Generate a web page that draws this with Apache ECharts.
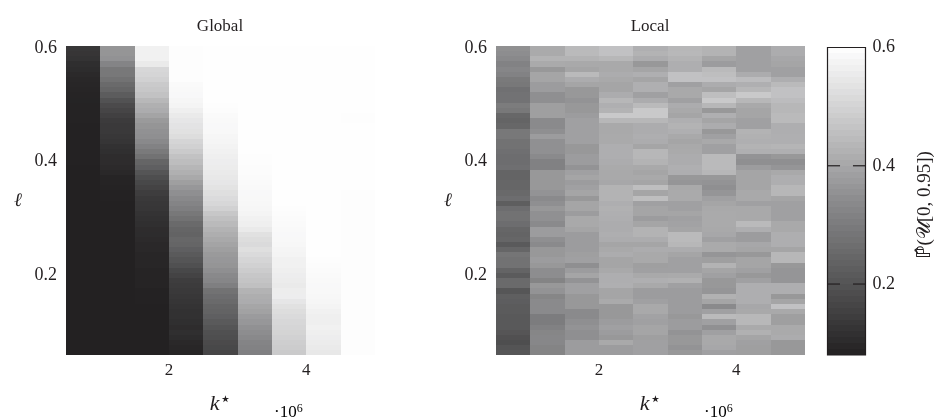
<!DOCTYPE html>
<html><head><meta charset="utf-8">
<script src="https://cdn.jsdelivr.net/npm/echarts@6/dist/echarts.min.js"></script>
<style>html,body{margin:0;padding:0;background:#fff}#c{width:935px;height:420px}</style>
</head><body><div id="c"></div>
<script>
const kColumns=[0.75,1.25,1.75,2.25,2.75,3.25,3.75,4.25,4.75];
const ellTop=0.604, ellBottom=0.058, rowCount=60;
const xTickLabels=[2,4];
const yTickLabels=[0.2,0.4,0.6];
const cbTickLabels=[0.2,0.4,0.6];
const cbTicks=[0.2,0.4];
// values per column, rows listed from the top (ell=0.6) downward
const global1=[.132,.128,.122,.110,.105,.100,.095,.092,.090,.088,.086,.085,.085,.084,.084,.083,.083,.083,.082,.082,.082,.082,.082,.081,.081,.081,.081,.081,.081,.081,.081,.081,.081,.081,.081,.081,.081,.081,.081,.081,.080,.080,.080,.080,.080,.080,.080,.080,.080,.080,.080,.080,.080,.080,.080,.080,.080,.080,.080,.080];
const global2=[.361,.361,.355,.323,.291,.291,.275,.256,.242,.221,.196,.178,.166,.154,.142,.137,.137,.132,.127,.117,.112,.107,.107,.102,.097,.087,.087,.085,.083,.082,.081,.081,.081,.081,.081,.080,.080,.080,.080,.080,.080,.080,.080,.080,.080,.080,.080,.080,.080,.080,.080,.080,.080,.080,.080,.080,.080,.080,.080,.080];
const global3=[.568,.568,.568,.551,.509,.505,.496,.48,.473,.462,.439,.421,.413,.394,.372,.361,.354,.349,.336,.317,.296,.275,.242,.229,.203,.186,.171,.161,.146,.137,.132,.129,.122,.117,.112,.107,.105,.102,.097,.097,.092,.092,.092,.087,.087,.087,.087,.082,.082,.082,.08,.08,.08,.08,.08,.08,.08,.08,.08,.08];
const global4=[.596,.596,.596,.596,.596,.596,.596,.589,.587,.585,.579,.575,.564,.551,.544,.537,.531,.522,.505,.496,.48,.462,.45,.435,.421,.406,.383,.367,.349,.336,.323,.309,.291,.275,.256,.242,.237,.248,.242,.229,.216,.203,.19,.171,.161,.146,.142,.137,.132,.127,.122,.117,.117,.112,.107,.112,.105,.097,.092,.087];
const global5=[.598,.598,.598,.598,.598,.598,.598,.598,.598,.598,.598,.596,.594,.589,.587,.585,.583,.579,.577,.573,.568,.564,.56,.556,.551,.547,.544,.535,.526,.518,.509,.496,.473,.457,.444,.428,.417,.406,.394,.383,.372,.367,.361,.349,.336,.328,.309,.275,.264,.256,.242,.237,.229,.216,.203,.19,.186,.178,.171,.166];
const global6=[.598,.598,.598,.598,.598,.598,.598,.598,.598,.598,.598,.598,.598,.598,.598,.598,.598,.598,.598,.598,.598,.596,.596,.594,.594,.591,.589,.587,.585,.583,.581,.579,.575,.568,.564,.551,.531,.522,.516,.526,.516,.505,.496,.484,.473,.466,.457,.428,.417,.413,.399,.39,.376,.367,.354,.345,.336,.323,.317,.309];
const global7=[.598,.598,.598,.598,.598,.598,.598,.598,.598,.598,.598,.598,.598,.598,.598,.598,.598,.598,.598,.598,.598,.598,.598,.598,.598,.598,.598,.598,.598,.598,.598,.596,.594,.591,.589,.587,.585,.583,.581,.577,.575,.568,.568,.564,.56,.556,.551,.558,.56,.544,.531,.522,.516,.509,.505,.501,.496,.489,.484,.48];
const global8=[.598,.598,.598,.598,.598,.598,.598,.598,.598,.598,.598,.598,.598,.598,.598,.598,.598,.598,.598,.598,.598,.598,.598,.598,.598,.598,.598,.598,.598,.598,.598,.598,.598,.598,.598,.598,.598,.598,.598,.598,.598,.596,.594,.591,.589,.587,.585,.583,.581,.579,.575,.568,.564,.564,.568,.564,.56,.556,.551,.547];
const global9=[.597,.597,.597,.597,.597,.597,.597,.597,.597,.597,.597,.597,.597,.596,.596,.597,.597,.597,.597,.597,.597,.597,.597,.597,.597,.597,.597,.597,.596,.596,.596,.596,.595,.595,.596,.596,.596,.595,.595,.596,.596,.596,.596,.596,.595,.595,.596,.596,.596,.596,.595,.595,.595,.595,.596,.596,.596,.595,.595,.595];
const local1=[.350,.345,.336,.317,.328,.317,.296,.291,.272,.277,.277,.301,.291,.248,.240,.248,.291,.291,.275,.275,.269,.264,.264,.269,.240,.240,.246,.246,.253,.264,.226,.264,.275,.275,.264,.246,.240,.246,.214,.246,.283,.275,.275,.240,.218,.256,.256,.206,.228,.224,.218,.218,.212,.212,.212,.204,.192,.186,.200,.206];
const local2=[.408,.408,.428,.408,.368,.397,.397,.377,.377,.348,.348,.383,.383,.383,.337,.337,.348,.377,.352,.352,.352,.337,.314,.314,.368,.368,.368,.368,.358,.337,.348,.368,.352,.352,.337,.377,.377,.348,.337,.368,.368,.377,.368,.345,.345,.321,.368,.358,.326,.337,.337,.337,.303,.303,.314,.326,.330,.330,.321,.321];
const local3=[.444,.444,.428,.405,.397,.444,.413,.397,.368,.368,.358,.368,.368,.377,.386,.386,.386,.386,.386,.368,.368,.377,.377,.358,.386,.397,.377,.386,.397,.368,.397,.397,.377,.405,.405,.397,.377,.377,.377,.377,.383,.386,.348,.377,.397,.358,.386,.386,.368,.368,.368,.337,.337,.348,.358,.348,.348,.377,.377,.377];
const local4=[.460,.460,.436,.405,.405,.413,.405,.397,.397,.413,.436,.420,.428,.476,.436,.405,.405,.408,.408,.418,.418,.418,.413,.408,.405,.405,.402,.428,.428,.428,.418,.424,.420,.418,.413,.413,.418,.413,.397,.405,.413,.397,.397,.405,.418,.418,.420,.397,.397,.408,.368,.368,.368,.377,.386,.377,.368,.405,.377,.377];
const local5=[.420,.428,.413,.368,.397,.420,.397,.420,.420,.386,.413,.444,.476,.476,.436,.413,.413,.418,.413,.397,.436,.436,.428,.405,.397,.405,.397,.452,.397,.452,.386,.397,.397,.377,.397,.428,.428,.413,.397,.413,.405,.405,.383,.386,.405,.420,.405,.377,.377,.386,.405,.405,.391,.386,.397,.397,.383,.386,.386,.386];
const local6=[.436,.439,.428,.418,.418,.460,.460,.386,.405,.405,.386,.413,.405,.397,.420,.428,.420,.405,.397,.405,.408,.413,.413,.420,.418,.368,.363,.405,.408,.408,.386,.386,.397,.386,.391,.397,.444,.444,.436,.413,.397,.386,.386,.386,.408,.424,.386,.377,.377,.377,.377,.377,.368,.377,.377,.358,.368,.368,.358,.368];
const local7=[.428,.428,.397,.377,.444,.452,.460,.413,.397,.452,.476,.436,.368,.420,.397,.413,.368,.386,.405,.386,.386,.444,.444,.444,.436,.368,.358,.348,.363,.386,.397,.405,.408,.408,.408,.405,.402,.386,.408,.408,.363,.383,.428,.397,.386,.368,.368,.363,.424,.397,.337,.386,.444,.386,.352,.386,.405,.405,.402,.386];
const local8=[.386,.386,.386,.386,.386,.413,.449,.420,.436,.476,.436,.405,.397,.397,.386,.386,.428,.424,.420,.428,.420,.358,.348,.377,.397,.397,.397,.397,.405,.405,.386,.405,.405,.405,.444,.418,.377,.377,.402,.397,.368,.397,.397,.386,.368,.386,.418,.418,.418,.418,.402,.405,.439,.439,.408,.424,.397,.386,.383,.383];
const local9=[.413,.413,.402,.397,.386,.386,.418,.444,.460,.460,.449,.436,.436,.444,.444,.418,.418,.420,.420,.433,.420,.368,.348,.363,.405,.418,.418,.436,.436,.397,.386,.386,.386,.386,.405,.405,.418,.418,.418,.397,.436,.436,.368,.363,.363,.363,.418,.418,.368,.397,.460,.405,.383,.383,.408,.408,.413,.368,.368,.368];
const globalColumns=[global1,global2,global3,global4,global5,global6,global7,global8,global9];
const localColumns=[local1,local2,local3,local4,local5,local6,local7,local8,local9];
const grayStops=['#232122','#585859','#8b8b8d','#c6c6c7','#ffffff'];

const rowH=(ellTop-ellBottom)/rowCount, colW=0.5;
function cells(cols){const out=[];cols.forEach((c,i)=>c.forEach((v,r)=>{out.push([kColumns[i],ellTop-(r+0.5)*rowH,v]);}));return out;}
const cbStep=0.01,cbCells=[];
for(let i=0;i<52;i++){const v=0.08+(i+0.5)*cbStep;cbCells.push([0.5,v,v]);}
function cellRender(w,h){return function(params,api){
  const x=api.value(0),y=api.value(1);
  const a=api.coord([x-w/2,y+h/2]),b=api.coord([x+w/2,y-h/2]);
  const x0=Math.round(a[0]),y0=Math.round(a[1]),x1=Math.round(b[0]),y1=Math.round(b[1]);
  return {type:'rect',shape:{x:x0,y:y0,width:x1-x0,height:y1-y0},style:{fill:api.visual('color')}};
};}
function tickRender(params,api){
  const v=api.value(0),out=[];
  [[0,0.33],[0.67,1]].forEach(r=>{
    const a=api.coord([r[0],v]),b=api.coord([r[1],v]);
    out.push({type:'line',shape:{x1:a[0],y1:a[1],x2:b[0],y2:b[1]},style:{stroke:ink,lineWidth:1.2}});
  });
  return {type:'group',children:out};
}
const serif='"Liberation Serif","DejaVu Serif",serif';
const ink='#231f20';
function xAx(i){return {gridIndex:i,type:'value',min:0.5,max:5,position:'bottom',z:5,
  axisLine:{show:false},axisTick:{show:false},splitLine:{show:false},
  axisLabel:{customValues:xTickLabels,color:ink,fontFamily:serif,fontSize:17,margin:7,formatter:v=>String(v)},
  name:'{k|k}{s|⋆}',nameLocation:'middle',nameGap:35,
  nameTextStyle:{rich:{k:{fontFamily:serif,fontStyle:'italic',fontSize:22,color:ink},s:{fontFamily:'"DejaVu Sans",serif',fontSize:19,color:ink,verticalAlign:'top',padding:[0,0,8,0]}}}};}
function yAx(i){return {gridIndex:i,type:'value',min:ellBottom,max:ellTop,z:5,
  axisLine:{show:false},axisTick:{show:false},splitLine:{show:false},
  axisLabel:{customValues:yTickLabels,color:ink,fontFamily:serif,fontSize:18,margin:9,formatter:v=>v.toFixed(1)},
  name:'ℓ',nameLocation:'middle',nameGap:44,nameRotate:0,nameTextStyle:{fontFamily:'"DejaVu Serif",serif',fontStyle:'italic',fontSize:19,color:ink}};}
const exp10={type:'text',top:403,style:{text:'{a|·10}{b|6}',rich:{a:{fontFamily:serif,fontSize:17,color:ink},b:{fontFamily:serif,fontSize:12,color:ink,verticalAlign:'top',padding:[0,0,8,0]}}}};
const option={
  animation:false,backgroundColor:'#fff',
  title:[
    {text:'Global',left:215,top:13,textAlign:'center',textStyle:{fontFamily:serif,fontWeight:'normal',fontSize:17,color:ink}},
    {text:'Local',left:645,top:13,textAlign:'center',textStyle:{fontFamily:serif,fontWeight:'normal',fontSize:17,color:ink}}
  ],
  grid:[
    {left:66,top:46,width:309,height:310},
    {left:496,top:46,width:309,height:310},
    {left:827.5,top:47.5,width:38,height:307.5,show:true,z:6,borderColor:ink,borderWidth:1.2,backgroundColor:'transparent'}
  ],
  xAxis:[xAx(0),xAx(1),{gridIndex:2,type:'value',min:0,max:1,show:false}],
  yAxis:[yAx(0),yAx(1),
    {gridIndex:2,type:'value',min:0.08,max:0.6,position:'right',z:7,axisLine:{show:false},splitLine:{show:false},axisTick:{show:false},
     axisLabel:{customValues:cbTickLabels,color:ink,fontFamily:serif,fontSize:18,margin:7,formatter:v=>v.toFixed(1)}}
  ],
  visualMap:[{show:false,type:'continuous',min:0.08,max:0.6,dimension:2,seriesIndex:[0,1,2],inRange:{color:grayStops}}],
  series:[
    {type:'custom',xAxisIndex:0,yAxisIndex:0,data:cells(globalColumns),encode:{x:0,y:1},renderItem:cellRender(colW,rowH)},
    {type:'custom',xAxisIndex:1,yAxisIndex:1,data:cells(localColumns),encode:{x:0,y:1},renderItem:cellRender(colW,rowH)},
    {type:'custom',xAxisIndex:2,yAxisIndex:2,data:cbCells,encode:{x:0,y:1},renderItem:cellRender(1,cbStep)},
    {type:'custom',xAxisIndex:2,yAxisIndex:2,z:8,data:cbTicks.map(v=>[v]),encode:{y:0},renderItem:tickRender}
  ],
  graphic:[
    Object.assign({},exp10,{left:274}),
    Object.assign({},exp10,{left:704}),
    {type:'text',x:925,y:205,rotation:Math.PI/2,style:{text:'ℙ̂(𝒰[0, 0.95])',textAlign:'center',textVerticalAlign:'middle',fontFamily:'"Liberation Serif","DejaVu Sans","DejaVu Serif",serif',fontSize:19,fill:ink}}
  ]
};
const chart=echarts.init(document.getElementById('c'),null,{renderer:'canvas'});
chart.setOption(option);
</script></body></html>
